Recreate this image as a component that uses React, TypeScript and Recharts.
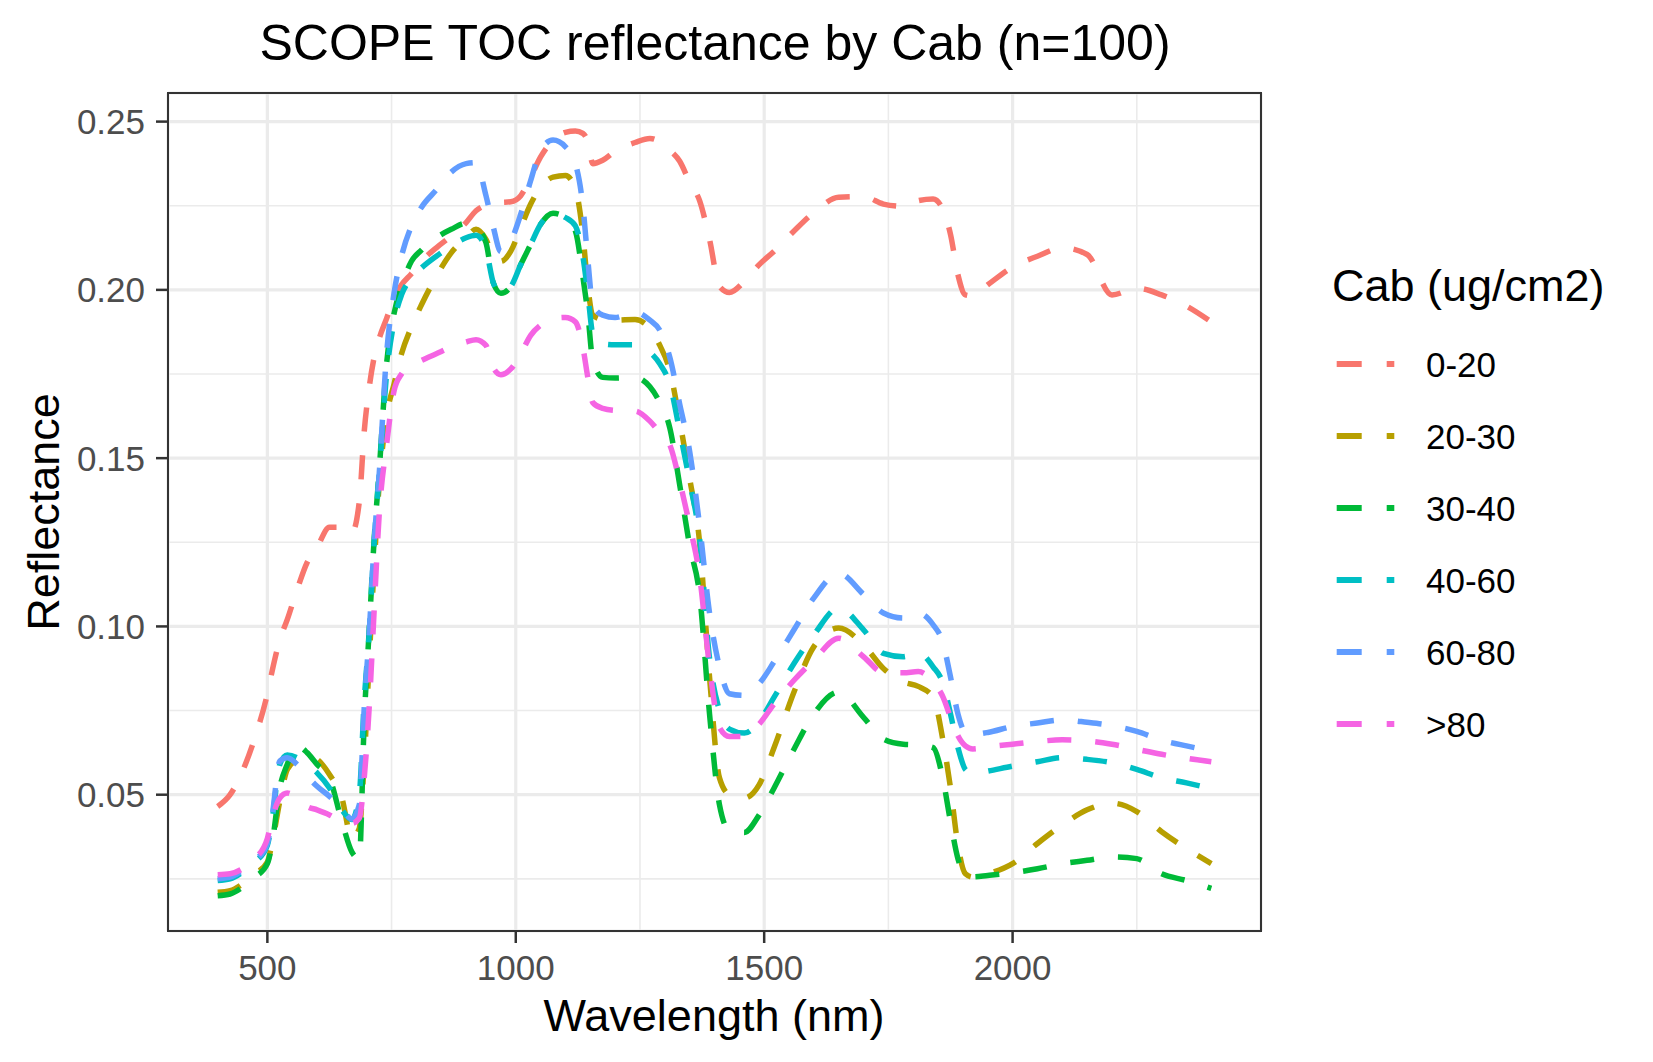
import React from 'react';
import { LineChart, Line, XAxis, YAxis, CartesianGrid, Legend, ReferenceArea } from 'recharts';

// wavelength grid (nm) the curves were read at
const wavelengths = [
  400, 425, 450, 475, 500, 510, 525, 540, 560, 580,
  600, 625, 650, 670, 685, 695, 705, 715, 725, 740,
  755, 770, 790, 810, 840, 870, 900, 920, 940, 955,
  970, 990, 1010, 1030, 1050, 1075, 1100, 1120, 1135, 1145,
  1155, 1175, 1200, 1240, 1270, 1290, 1310, 1330, 1350, 1370,
  1390, 1410, 1430, 1460, 1490, 1520, 1560, 1600, 1650, 1700,
  1740, 1780, 1810, 1840, 1860, 1875, 1890, 1905, 1920, 1950,
  2000, 2050, 2100, 2150, 2200, 2250, 2300, 2350, 2400,
];

const cab0to20 = [
  0.0465, 0.05, 0.057, 0.067, 0.08, 0.087, 0.096, 0.102, 0.111, 0.119,
  0.1235, 0.1295, 0.1295, 0.1278, 0.137, 0.158, 0.171, 0.18, 0.1855, 0.1915,
  0.1975, 0.2015, 0.2048, 0.2085, 0.2125, 0.216, 0.22, 0.2235, 0.2252, 0.2258,
  0.226, 0.2262, 0.228, 0.2335, 0.2395, 0.2445, 0.2468, 0.2472, 0.2465, 0.244,
  0.2375, 0.2385, 0.2412, 0.2438, 0.245, 0.244, 0.2415, 0.2382, 0.232, 0.2265,
  0.215, 0.201, 0.1992, 0.2025, 0.2075, 0.2115, 0.2175, 0.223, 0.2275, 0.2277,
  0.2255, 0.2248, 0.2265, 0.227, 0.2238, 0.2165, 0.2045, 0.1985, 0.1982, 0.2015,
  0.2068, 0.21, 0.2125, 0.2105, 0.1985, 0.2005, 0.1985, 0.1952, 0.1905,
];

const cab20to30 = [
  0.021, 0.0215, 0.0235, 0.0265, 0.03, 0.036, 0.048, 0.0575, 0.0605, 0.0615,
  0.0605, 0.056, 0.049, 0.037, 0.04, 0.06, 0.09, 0.118, 0.142, 0.1625,
  0.172, 0.181, 0.189, 0.1955, 0.204, 0.211, 0.2155, 0.218, 0.215, 0.21,
  0.2085, 0.2115, 0.2185, 0.2255, 0.2305, 0.2335, 0.234, 0.23, 0.2165, 0.201,
  0.1925, 0.1912, 0.191, 0.1912, 0.1885, 0.1835, 0.176, 0.161, 0.144, 0.125,
  0.085, 0.055, 0.05, 0.049, 0.053, 0.064, 0.0805, 0.094, 0.0995, 0.0945,
  0.0875, 0.0835, 0.0822, 0.079, 0.066, 0.052, 0.035, 0.0265, 0.0255, 0.0265,
  0.0295, 0.0355, 0.041, 0.0455, 0.0475, 0.045, 0.039, 0.034, 0.0295,
];

const cab30to40 = [
  0.02, 0.0205, 0.0225, 0.0255, 0.0295, 0.036, 0.052, 0.059, 0.0645, 0.0625,
  0.059, 0.055, 0.042, 0.033, 0.031, 0.072, 0.099, 0.126, 0.146, 0.178,
  0.193, 0.201, 0.2085, 0.2118, 0.2155, 0.218, 0.2198, 0.2185, 0.214, 0.202,
  0.199, 0.201, 0.2075, 0.2135, 0.2195, 0.2228, 0.2215, 0.2175, 0.204, 0.193,
  0.179, 0.174, 0.1738, 0.174, 0.1712, 0.1665, 0.159, 0.142, 0.124, 0.1095,
  0.074, 0.047, 0.0393, 0.0388, 0.044, 0.052, 0.0635, 0.074, 0.0805, 0.073,
  0.0665, 0.065, 0.0648, 0.064, 0.0545, 0.042, 0.031, 0.0262, 0.0256, 0.026,
  0.0268, 0.028, 0.0295, 0.0305, 0.0315, 0.031, 0.0265, 0.0245, 0.0222,
];

const cab40to60 = [
  0.0245, 0.025, 0.027, 0.03, 0.035, 0.043, 0.059, 0.0618, 0.061, 0.059,
  0.0565, 0.052, 0.0455, 0.0426, 0.05, 0.078, 0.098, 0.125, 0.145, 0.175,
  0.1905, 0.1985, 0.2035, 0.2065, 0.21, 0.213, 0.2155, 0.2162, 0.212, 0.202,
  0.199, 0.201, 0.2075, 0.2135, 0.2195, 0.2228, 0.2215, 0.219, 0.21, 0.199,
  0.187, 0.184, 0.1837, 0.1837, 0.1815, 0.178, 0.172, 0.158, 0.143, 0.126,
  0.0905, 0.075, 0.0695, 0.0683, 0.0718, 0.079, 0.089, 0.0975, 0.1055, 0.099,
  0.092, 0.091, 0.0922, 0.088, 0.083, 0.074, 0.064, 0.0575, 0.0562, 0.057,
  0.0585, 0.0598, 0.061, 0.0605, 0.0595, 0.0575, 0.055, 0.0535, 0.0518,
];

const cab60to80 = [
  0.025, 0.0255, 0.0275, 0.0305, 0.0355, 0.044, 0.06, 0.061, 0.059, 0.0555,
  0.0525, 0.0495, 0.046, 0.0428, 0.047, 0.076, 0.098, 0.125, 0.145, 0.181,
  0.199, 0.21, 0.219, 0.2245, 0.2297, 0.235, 0.2375, 0.2378, 0.228, 0.2185,
  0.2114, 0.2145, 0.2225, 0.2325, 0.2415, 0.2445, 0.2425, 0.2375, 0.225, 0.209,
  0.1955, 0.1925, 0.1918, 0.1934, 0.191, 0.188, 0.18, 0.166, 0.152, 0.13,
  0.104, 0.088, 0.08, 0.0795, 0.083, 0.0895, 0.099, 0.1085, 0.1158, 0.1095,
  0.104, 0.1025, 0.104, 0.1005, 0.095, 0.085, 0.074, 0.0685, 0.068, 0.0685,
  0.0703, 0.0713, 0.0722, 0.0715, 0.0705, 0.0688, 0.0662, 0.0645, 0.063,
];

const cabOver80 = [
  0.0262, 0.0265, 0.028, 0.031, 0.037, 0.043, 0.049, 0.0505, 0.049, 0.0465,
  0.0455, 0.044, 0.042, 0.0415, 0.043, 0.055, 0.076, 0.105, 0.133, 0.154,
  0.17, 0.175, 0.1775, 0.179, 0.181, 0.183, 0.1845, 0.1852, 0.1835, 0.1768,
  0.1748, 0.1765, 0.181, 0.1865, 0.1895, 0.1915, 0.1918, 0.1905, 0.183, 0.174,
  0.1665, 0.1648, 0.1642, 0.164, 0.161, 0.1575, 0.154, 0.143, 0.13, 0.115,
  0.088, 0.07, 0.0673, 0.0673, 0.071, 0.077, 0.084, 0.09, 0.0965, 0.091,
  0.0863, 0.0862, 0.0866, 0.0835, 0.079, 0.073, 0.0675, 0.0645, 0.0636, 0.0642,
  0.065, 0.0658, 0.0663, 0.066, 0.065, 0.0635, 0.062, 0.0608, 0.0598,
];

const seriesNames = ['0-20', '20-30', '30-40', '40-60', '60-80', '>80'];
const seriesColors = ['#F8766D', '#B79F00', '#00BA38', '#00BFC4', '#619CFF', '#F564E3'];
const seriesValues = [cab0to20, cab20to30, cab30to40, cab40to60, cab60to80, cabOver80];

const xTicks = [500, 1000, 1500, 2000];
const xMinorTicks = [750, 1250, 1750, 2250];
const yTicks = [0.05, 0.1, 0.15, 0.2, 0.25];
const yMinorTicks = [0.025, 0.075, 0.125, 0.175, 0.225];

const X_DOMAIN: [number, number] = [300, 2500];
const Y_DOMAIN: [number, number] = [0.0095, 0.2585];

const data = wavelengths.map((wl, i) => {
  const row: Record<string, number> = { wl };
  seriesValues.forEach((vals, k) => {
    row['s' + k] = vals[i];
  });
  return row;
});

const FONT = '"Liberation Sans", Arial, Helvetica, sans-serif';

function renderLegend(props: any) {
  const payload = props.payload || [];
  return (
    <svg width={330} height={520} style={{ display: 'block', fontFamily: FONT }}>
      <text x={2} y={51} fontSize={45} fill="#000000">Cab (ug/cm2)</text>
      {payload.map((p: any, i: number) => {
        const cy = 114 + 72 * i;
        return (
          <g key={p.value}>
            <line x1={6.7} x2={64.3} y1={cy} y2={cy} stroke={p.color} strokeWidth={6} strokeDasharray="25 25" />
            <text x={96} y={cy + 12.5} fontSize={35} fill="#000000">{p.value}</text>
          </g>
        );
      })}
    </svg>
  );
}

export default function App() {
  const tickStyle = { fill: '#4D4D4D', fontSize: 35, fontFamily: FONT };
  return (
    <div style={{ position: 'absolute', left: 0, top: 0, width: 1653, height: 1062, background: '#ffffff' }}>
      <LineChart width={1653} height={1062} data={data} margin={{ top: 93, right: 392, bottom: 0, left: 0 }}>
        <CartesianGrid stroke="#EBEBEB" strokeWidth={1.6} horizontalValues={yMinorTicks} verticalValues={xMinorTicks} />
        <CartesianGrid stroke="#EBEBEB" strokeWidth={3.2} />
        <XAxis
          dataKey="wl"
          type="number"
          domain={X_DOMAIN}
          ticks={xTicks}
          allowDataOverflow
          height={131}
          axisLine={false}
          tickSize={12}
          tickMargin={12}
          tickLine={{ stroke: '#333333', strokeWidth: 2.5 }}
          tick={tickStyle}
        />
        <YAxis
          type="number"
          domain={Y_DOMAIN}
          ticks={yTicks}
          allowDataOverflow
          width={168}
          axisLine={false}
          tickSize={12}
          tickMargin={11}
          tickLine={{ stroke: '#333333', strokeWidth: 2.5 }}
          tick={tickStyle}
          tickFormatter={(v: number) => v.toFixed(2)}
        />
        {seriesNames.map((name, k) => (
          <Line
            key={name}
            type="monotone"
            dataKey={'s' + k}
            name={name}
            stroke={seriesColors[k]}
            strokeWidth={5.5}
            strokeDasharray="24 24"
            dot={false}
            activeDot={false}
            isAnimationActive={false}
          />
        ))}
        <ReferenceArea
          x1={X_DOMAIN[0]}
          x2={X_DOMAIN[1]}
          y1={Y_DOMAIN[0]}
          y2={Y_DOMAIN[1]}
          fill="none"
          stroke="#333333"
          strokeWidth={2}
          fillOpacity={0}
        />
        <Legend
          layout="vertical"
          align="center"
          verticalAlign="middle"
          wrapperStyle={{ left: 1330, top: 250, width: 330, height: 520 }}
          content={renderLegend}
        />
      </LineChart>
      <svg
        width={1653}
        height={1062}
        style={{ position: 'absolute', left: 0, top: 0, pointerEvents: 'none', fontFamily: FONT }}
      >
        <text x={715} y={60} fontSize={50} textAnchor="middle" fill="#000000">
          SCOPE TOC reflectance by Cab (n=100)
        </text>
        <text x={714} y={1031} fontSize={45} textAnchor="middle" fill="#000000">
          Wavelength (nm)
        </text>
        <text x={59} y={512} fontSize={45} textAnchor="middle" fill="#000000" transform="rotate(-90 59 512)">
          Reflectance
        </text>
      </svg>
    </div>
  );
}
